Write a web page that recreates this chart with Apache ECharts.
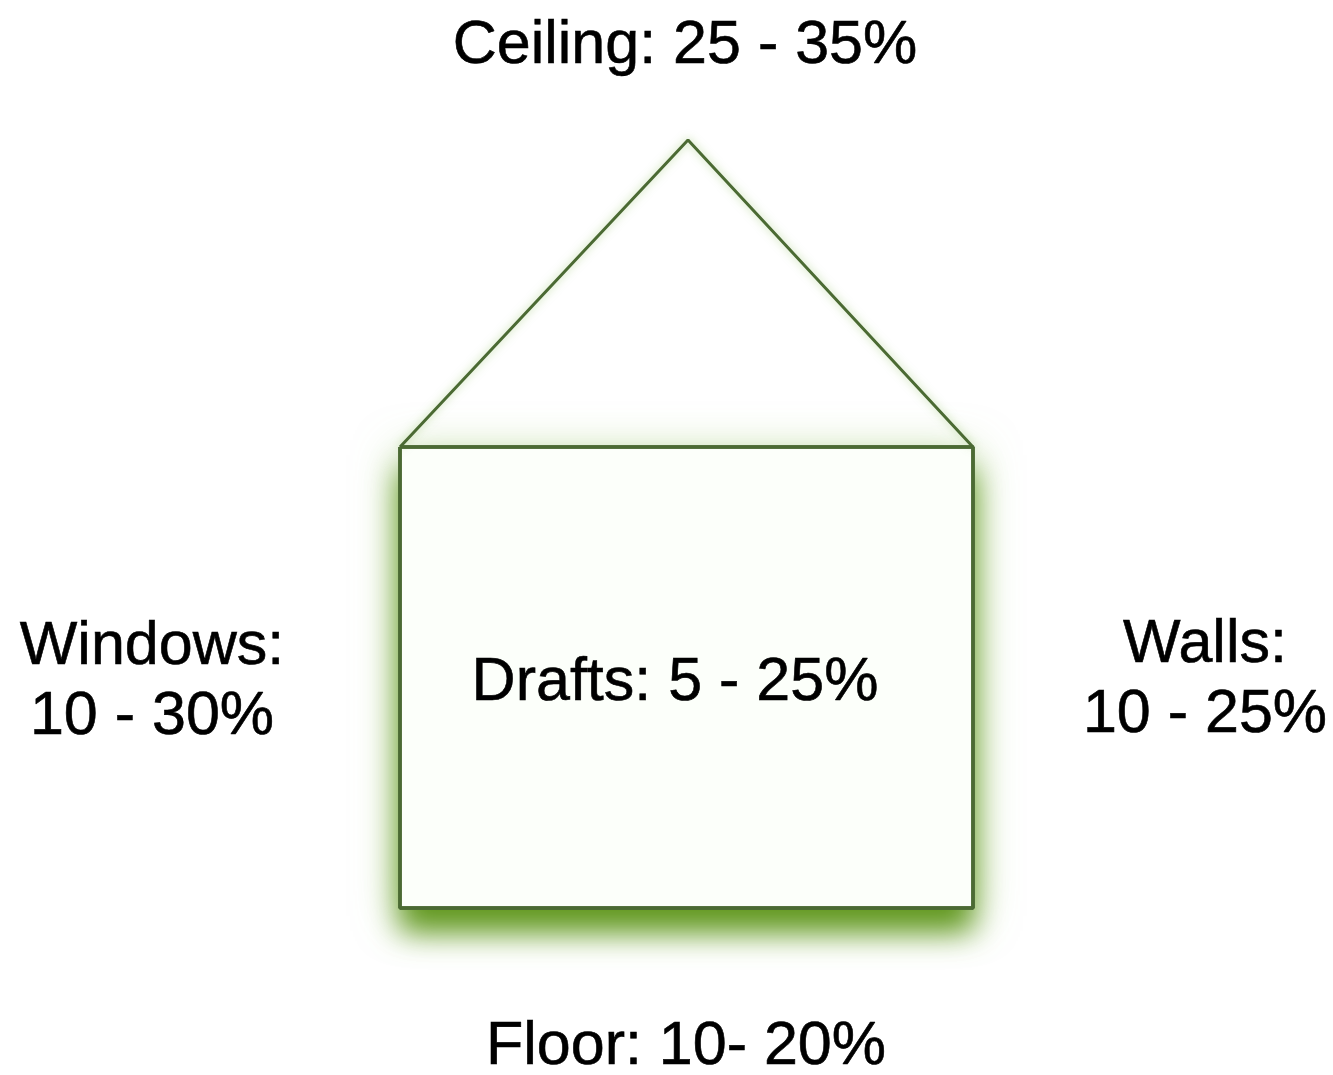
<!DOCTYPE html>
<html>
<head>
<meta charset="utf-8">
<script src="https://cdn.jsdelivr.net/npm/echarts@6/dist/echarts.min.js"></script>
<style>
  html, body { margin: 0; padding: 0; background: #fff; }
  #chart { width: 1333px; height: 1075px; }
</style>
</head>
<body>
<div id="chart"></div>
<script>
// heat loss ranges by part of the house
const parts = ['Ceiling', 'Windows', 'Drafts', 'Walls', 'Floor'];
const lowPct = [25, 10, 5, 10, 10];
const highPct = [35, 30, 25, 25, 20];
const dashStyle = [' - ', ' - ', ' - ', ' - ', '- '];
const breakLine = [false, true, false, true, false];

// label anchors (x, y) in the page-sized value axes
const labelX = [685, 152, 675, 1205, 686];
const labelY = [46, 682, 683, 680, 1047];

// house outline
const roofX = [400, 688, 973];
const roofY = [447, 140, 447];
const bodyX = [400, 973, 973, 400, 400];
const bodyY = [447, 447, 908, 908, 447];

const lineColor = '#4b6a33';

const chart = echarts.init(document.getElementById('chart'));

function labelText(i) {
  const sep = breakLine[i] ? ':\n' : ': ';
  return parts[i] + sep + lowPct[i] + dashStyle[i] + highPct[i] + '%';
}

const option = {
  animation: false,
  backgroundColor: '#fff',
  grid: { left: 0, right: 0, top: 0, bottom: 0 },
  xAxis: { type: 'value', min: 0, max: 1333, show: false },
  yAxis: { type: 'value', min: 0, max: 1075, inverse: true, show: false },
  series: [
    {
      // soft wide glow
      type: 'line',
      data: bodyX.map((x, i) => [x, bodyY[i]]),
      symbol: 'none',
      lineStyle: { width: 0 },
      areaStyle: {
        origin: 'start',
        color: '#fcfffa',
        opacity: 1,
        shadowColor: 'rgba(140, 190, 90, 0.6)',
        shadowBlur: 45,
        shadowOffsetY: 8,
      },
      z: 1,
    },
    {
      type: 'line',
      data: bodyX.map((x, i) => [x, bodyY[i]]),
      symbol: 'none',
      lineStyle: { color: lineColor, width: 3.5 },
      areaStyle: {
        origin: 'start',
        color: '#fcfffa',
        opacity: 1,
        shadowColor: 'rgba(98, 152, 32, 1)',
        shadowBlur: 30,
        shadowOffsetY: 24,
      },
      z: 2,
    },
    {
      type: 'line',
      data: bodyX.map((x, i) => [x, bodyY[i]]),
      symbol: 'none',
      lineStyle: { color: lineColor, width: 3.5 },
      z: 4,
    },
    {
      type: 'line',
      data: roofX.map((x, i) => [x, roofY[i]]),
      symbol: 'none',
      lineStyle: {
        color: lineColor,
        width: 3,
        shadowColor: 'rgba(120, 180, 60, 0.5)',
        shadowBlur: 8,
      },
      z: 3,
    },
    {
      type: 'scatter',
      data: parts.map((p, i) => ({ value: [labelX[i], labelY[i]], name: p })),
      symbolSize: 0,
      itemStyle: { opacity: 1 },
      label: {
        show: true,
        position: 'inside',
        formatter: (p) => labelText(p.dataIndex),
        color: '#000',
        opacity: 1,
        fontSize: 61,
        lineHeight: 70,
        fontFamily: 'Liberation Sans, Arial, sans-serif',
        textBorderColor: '#000',
        textBorderWidth: 0.6,
        align: 'center',
        verticalAlign: 'middle',
      },
      z: 5,
    },
  ],
};

chart.setOption(option);
</script>
</body>
</html>
